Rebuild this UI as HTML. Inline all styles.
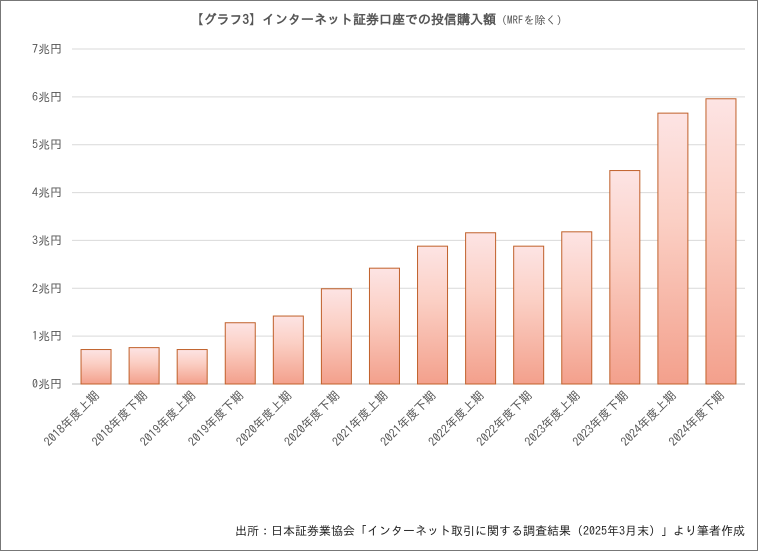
<!DOCTYPE html>
<html><head><meta charset="utf-8"><style>
body{margin:0;background:#fff}
svg{display:block;font-family:"IPAGothic","Noto Sans CJK JP",monospace}
</style></head><body>
<svg width="759" height="552" viewBox="0 0 759 552" xmlns="http://www.w3.org/2000/svg">
<defs><linearGradient id="g" x1="0" y1="0" x2="0" y2="1"><stop offset="0" stop-color="#fde4e4"/><stop offset="0.4" stop-color="#fbcfc4"/><stop offset="1" stop-color="#f3a08c"/></linearGradient></defs>
<rect x="0.5" y="0.5" width="757" height="550" fill="#fff" stroke="#777"/>
<text x="379" y="24" text-anchor="middle" font-size="13" font-weight="bold" fill="#555">【グラフ3】インターネット証券口座での投信購入額<tspan font-size="11" font-weight="normal">（MRFを除く）</tspan></text>
<g id="grid"></g><g id="bars"></g><g id="xl"></g>
<text x="745" y="535" text-anchor="end" font-size="12" fill="#222">出所：日本証券業協会「インターネット取引に関する調査結果（2025年3月末）」より筆者作成</text>
</svg>
<script>
const categories=["2018年度上期","2018年度下期","2019年度上期","2019年度下期","2020年度上期","2020年度下期","2021年度上期","2021年度下期","2022年度上期","2022年度下期","2023年度上期","2023年度下期","2024年度上期","2024年度下期"];
const values=[0.72,0.76,0.72,1.28,1.42,1.99,2.42,2.88,3.16,2.88,3.18,4.46,5.66,5.96];
const yTicks=[0,1,2,3,4,5,6,7];
const yTickLabels=["0兆円","1兆円","2兆円","3兆円","4兆円","5兆円","6兆円","7兆円"];
const NS="http://www.w3.org/2000/svg";
const x0=72,x1=745,y0=384,yTop=49;
const y=v=>y0-(v/7)*(y0-yTop);
const step=(x1-x0)/categories.length;
const xc=i=>x0+step*(i+0.5);
function mk(t,a,p){const e=document.createElementNS(NS,t);for(const k in a)e.setAttribute(k,a[k]);p.appendChild(e);return e;}
const G=document.getElementById('grid'),B=document.getElementById('bars'),X=document.getElementById('xl');
yTicks.forEach((t,i)=>{
 const l=mk('line',{x1:x0,x2:x1,y1:y(t),y2:y(t),stroke:t===0?'#bbb':'#d9d9d9','stroke-width':1},G);
 
 
 const tx=mk('text',{x:62,y:y(t)+4,'text-anchor':'end','font-size':12,fill:'#555'},G);
 tx.textContent=yTickLabels[i];
 
 
});
values.forEach((v,i)=>{
 const w=30;
 const r=mk('rect',{x:xc(i)-w/2,y:y(v),width:w,height:y0-y(v),fill:'url(#g)',stroke:'#c0602a','stroke-width':1},B);
 
 
 const t=mk('text',{x:xc(i)+4,y:y0+12,'text-anchor':'end','font-size':12,fill:'#555',transform:`rotate(-45 ${xc(i)+4} ${y0+12})`},X);
 t.textContent=categories[i];
 
 
});
</script>
</body></html>
